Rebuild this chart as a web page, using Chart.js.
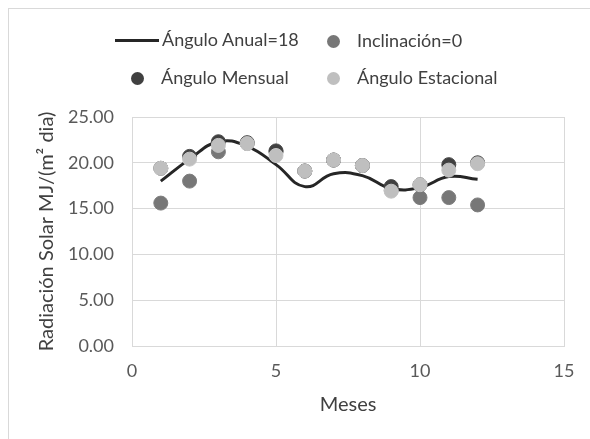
<!DOCTYPE html>
<html lang="es">
<head>
  <meta charset="UTF-8">
  <title>Radiación Solar</title>
  <script src="https://cdn.jsdelivr.net/npm/chart.js"></script>
  <style>
    body {
      margin: 0;
      width: 590px;
      height: 439px;
      overflow: hidden;
      background: #fff;
      font-family: Lato, "Open Sans", sans-serif;
      position: relative;
    }
    #frame {
      position: absolute;
      left: 8px;
      top: 8px;
      width: 700px;
      height: 600px;
      border: 1px solid #d9d9d9;
    }
    #chart-container {
      position: absolute;
      left: 0;
      top: 0;
      width: 590px;
      height: 439px;
    }
    .legend-item {
      position: absolute;
      font-size: 18px;
      color: #404040;
      line-height: 22px;
      white-space: nowrap;
    }
    .legend-mark {
      position: absolute;
    }
  </style>
</head>
<body>
  <div id="frame"></div>
  <div id="chart-container">
    <canvas id="radChart"></canvas>
  </div>
  <div id="legend"></div>

  <script>
    // Meses 1..12
    const meses = [1, 2, 3, 4, 5, 6, 7, 8, 9, 10, 11, 12];

    // valores (MJ/(m2 dia))
    const anguloAnual = [18.0, 20.4, 22.3, 21.8, 19.8, 17.4, 18.8, 18.6, 17.2, 17.3, 18.5, 18.2];
    const inclinacion0 = [15.6, 18.0, 21.2, 22.1, 21.2, 19.1, 20.3, 19.7, 17.0, 16.2, 16.2, 15.4];
    const anguloMensual = [19.4, 20.7, 22.3, 22.2, 21.3, 19.1, 20.3, 19.7, 17.4, 17.6, 19.8, 20.0];
    const anguloEstacional = [19.4, 20.4, 21.9, 22.1, 20.8, 19.1, 20.3, 19.7, 16.9, 17.6, 19.2, 19.9];

    const xTicks = [0, 5, 10, 15];
    const yTicks = [0, 5, 10, 15, 20, 25];

    function pts(vals) {
      return meses.map((m, i) => ({ x: m, y: vals[i] }));
    }

    const datasets = [
      {
        label: "Ángulo Anual=18",
        type: "line",
        data: pts(anguloAnual),
        borderColor: "#262626",
        backgroundColor: "#262626",
        borderWidth: 3,
        pointRadius: 0,
        showLine: true,
        tension: 0.45,
        order: 4
      },
      {
        label: "Inclinación=0",
        data: pts(inclinacion0),
        backgroundColor: "#777777",
        borderColor: "#7e7e7e",
        borderWidth: 1,
        pointRadius: 7,
        order: 3
      },
      {
        label: "Ángulo Mensual",
        data: pts(anguloMensual),
        backgroundColor: "#404040",
        borderColor: "#474747",
        borderWidth: 1,
        pointRadius: 7,
        order: 2
      },
      {
        label: "Ángulo Estacional",
        data: pts(anguloEstacional),
        backgroundColor: "#bfbfbf",
        borderColor: "#c6c6c6",
        borderWidth: 1,
        pointRadius: 7,
        order: 1
      }
    ];

    const tickFont = { family: "Lato", size: 18 };
    const titleFont = { family: "Lato", size: 20 };
    const gridColor = "#d9d9d9";

    const chart = new Chart(document.getElementById("radChart"), {
      type: "scatter",
      data: { datasets: datasets },
      options: {
        responsive: true,
        maintainAspectRatio: false,
        animation: false,
        layout: { padding: { top: 117, right: 26, left: 0, bottom: 0 } },
        plugins: {
          legend: { display: false },
          tooltip: { enabled: false }
        },
        scales: {
          x: {
            type: "linear",
            min: 0,
            max: 15,
            afterBuildTicks: s => { s.ticks = xTicks.map(v => ({ value: v })); },
            afterFit: s => { s.height = 93; },
            ticks: { color: "#595959", font: tickFont, padding: 14 },
            grid: { color: gridColor, drawTicks: false },
            border: { color: gridColor },
            title: {
              display: true,
              text: "Meses",
              color: "#404040",
              font: titleFont,
              padding: { top: 0, bottom: 22 }
            }
          },
          y: {
            min: 0,
            max: 25,
            afterBuildTicks: s => { s.ticks = yTicks.map(v => ({ value: v })); },
            afterFit: s => { s.width = 132; },
            ticks: {
              color: "#595959",
              font: tickFont,
              padding: 18,
              callback: v => v.toFixed(2)
            },
            grid: { color: gridColor, drawTicks: false },
            border: { color: gridColor },
            title: {
              display: true,
              text: "Radiación Solar MJ/(m² dia)",
              color: "#404040",
              font: titleFont,
              padding: { top: 35, bottom: 0 }
            }
          }
        }
      }
    });

    // leyenda en dos filas, como en el original
    const legendPos = [
      { left: 115, top: 40 },
      { left: 333, top: 41 },
      { left: 137, top: 78 },
      { left: 333, top: 78 }
    ];
    const legendEl = document.getElementById("legend");
    chart.data.datasets.forEach((ds, i) => {
      const p = legendPos[i];
      const mark = document.createElement("div");
      mark.className = "legend-mark";
      let textLeft;
      if (ds.type === "line") {
        mark.style.left = p.left + "px";
        mark.style.top = (p.top - 1.5) + "px";
        mark.style.width = "44px";
        mark.style.height = "3px";
        mark.style.background = ds.borderColor;
        textLeft = p.left + 47;
      } else {
        mark.style.left = (p.left - 6.5) + "px";
        mark.style.top = (p.top - 6.5) + "px";
        mark.style.width = "13px";
        mark.style.height = "13px";
        mark.style.borderRadius = "50%";
        mark.style.background = ds.backgroundColor;
        textLeft = p.left + 24;
      }
      legendEl.appendChild(mark);
      const txt = document.createElement("div");
      txt.className = "legend-item";
      txt.textContent = ds.label;
      txt.style.left = textLeft + "px";
      txt.style.top = (p.top - 12) + "px";
      legendEl.appendChild(txt);
    });
  </script>
</body>
</html>
